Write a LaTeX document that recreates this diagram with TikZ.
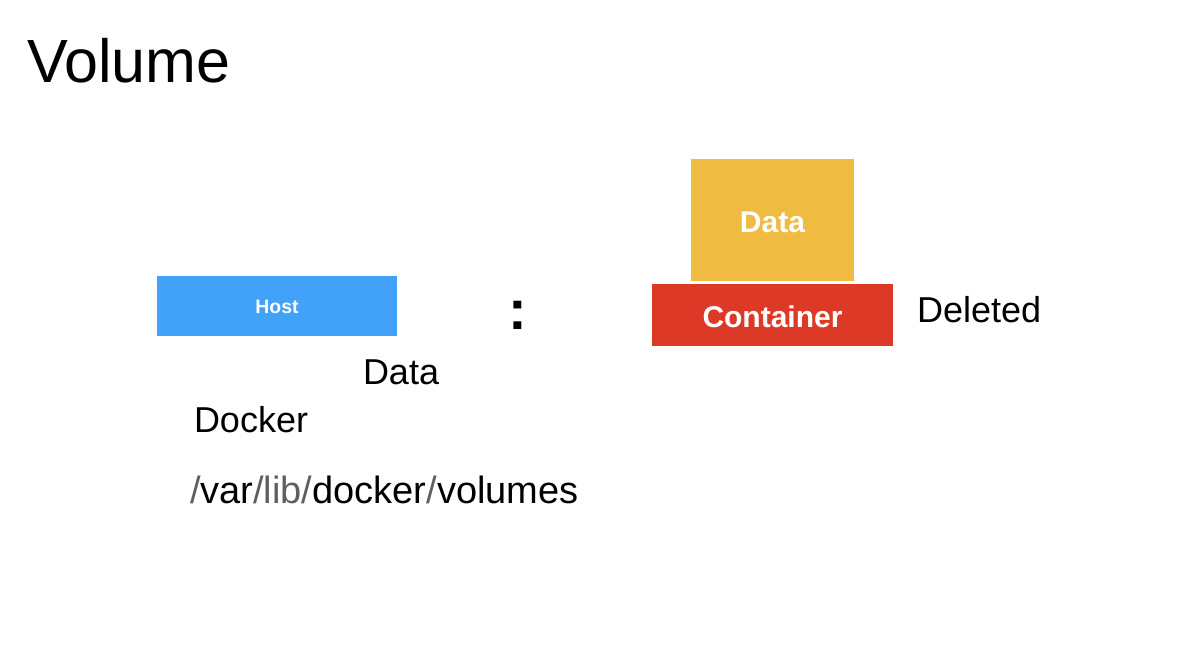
\documentclass[tikz,border=0pt]{standalone}
\usepackage{fontspec}
\setmainfont{Liberation Sans}
\usepackage{xcolor}
\definecolor{hostblue}{RGB}{66,161,248}
\definecolor{datayellow}{RGB}{239,187,64}
\definecolor{boxred}{RGB}{220,58,39}
\definecolor{pathgray}{RGB}{95,95,95}

\begin{document}
\begin{tikzpicture}[x=0.5pt,y=-0.5pt,outer sep=0pt,inner sep=0pt]
\tikzstyle{box}=[draw=none, text=white, text centered, text depth=0pt]
\tikzstyle{txt}=[anchor=base west, font=\fontsize{18}{18}\selectfont]
    \useasboundingbox (0,0) rectangle (1179,663);
    \node (title) [anchor=base west, font=\fontsize{30.5}{30.5}\selectfont] at (27,83) {Volume};
    \node (host) [box, fill=hostblue, anchor=north west, minimum width=120pt, minimum height=30pt,
        text height=8pt, font=\bfseries\fontsize{9.7}{10}\selectfont] at (157,276) {Host};
    \node (hdata) [txt] at (363,385) {Data};
    \node (docker) [txt] at (194,433) {Docker};
    \node (path) [txt, font=\fontsize{19}{19}\selectfont] at (190,503)
        {\textcolor{pathgray}{/}var\textcolor{pathgray}{/lib/}docker\textcolor{pathgray}{/}volumes};
    \node (colon) [anchor=base, font=\bfseries\fontsize{28}{28}\selectfont] at (517.5,330) {:};
    \node (cont) [box, fill=boxred, anchor=north west, minimum width=120.5pt, minimum height=31pt,
        text height=12.5pt, font=\bfseries\fontsize{15}{15}\selectfont] at (652,284) {Container};
    \node (cdata) [box, fill=datayellow, anchor=south, minimum width=81.5pt, minimum height=61pt,
        text height=13pt, font=\bfseries\fontsize{15}{15}\selectfont] at ([yshift=1.5pt]cont.north) {Data};
    \node (deleted) [txt] at (917,323) {Deleted};
\end{tikzpicture}
\end{document}
